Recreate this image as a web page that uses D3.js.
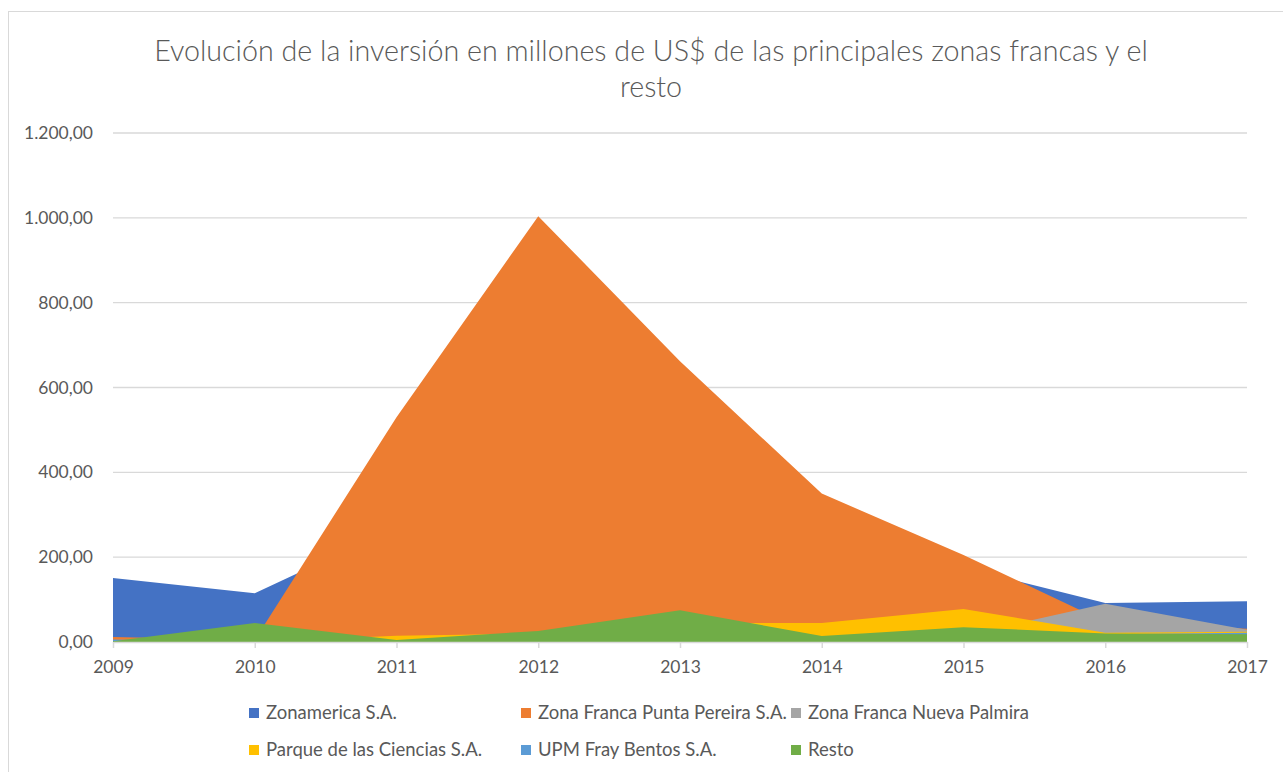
<!DOCTYPE html>
<html><head><meta charset="utf-8">
<script src="https://cdn.jsdelivr.net/npm/d3@7"></script>
<style>body{margin:0;background:#fff}svg{display:block}</style>
</head><body>
<svg id="c" width="1283" height="772"></svg>
<script>
const years = [2009,2010,2011,2012,2013,2014,2015,2016,2017];
const seriesNames = ["Zonamerica S.A.","Zona Franca Punta Pereira S.A.","Zona Franca Nueva Palmira","Parque de las Ciencias S.A.","UPM Fray Bentos S.A.","Resto"];
const zonamerica   = [151,115,271,300,250,200,175,92,96];
const puntaPereira = [12,5,530,1004,662,350,205,47,31];
const nuevaPalmira = [3,0,0,0,0,0,15,90,29];
const parqueCiencias = [0,0,15,20,45,45,78,22,24];
const upmFray      = [6,0,0,0,0,0,0,18,22];
const resto        = [2,45,5,26,75,14,35,20,18];
const yTicks = [0,200,400,600,800,1000,1200];
const colors = ["#4472C4","#ED7D31","#A5A5A5","#FFC000","#5B9BD5","#70AD47"];
const seriesValues = [zonamerica,puntaPereira,nuevaPalmira,parqueCiencias,upmFray,resto];

const svg = d3.select("#c");
const font = "Lato, 'Open Sans', sans-serif";
const textCol = "#595959";
const gridCol = "#d9d9d9";

svg.append("rect").attr("x",8.5).attr("y",11.5).attr("width",1290).attr("height",780)
  .attr("fill","#fff").attr("stroke","#d9d9d9").attr("stroke-width",1);

function fit(text, size, target){
  const t = svg.append("text").attr("font-family",font).attr("font-size",size).text(text);
  const w = t.node().getComputedTextLength(); t.remove();
  return size*target/w;
}

const x = d3.scaleLinear().domain([2009,2017]).range([113,1247]);
const y = d3.scaleLinear().domain([0,1200]).range([642,133]);

// gridlines
svg.append("g").selectAll("line").data(yTicks.slice(1)).join("line")
  .attr("x1",113).attr("x2",1247).attr("y1",d=>y(d)).attr("y2",d=>y(d))
  .attr("stroke",gridCol).attr("stroke-width",1.3);

// areas
const area = d3.area().x((d,i)=>x(years[i])).y0(y(0)).y1(d=>y(d));
svg.append("g").selectAll("path").data(seriesValues).join("path")
  .attr("d",d=>area(d)).attr("fill",(d,i)=>colors[i]);

// axes
const tickSize = fit("1.200,00",16,69);
const fmt = v => d3.format(",.2f")(v).replace(/,/g,"X").replace(/\./g,",").replace(/X/g,".");
const yAxis = svg.append("g").attr("transform","translate(113,0)")
  .call(d3.axisLeft(y).tickValues(yTicks).tickFormat(fmt).tickSize(0).tickPadding(20));
yAxis.select(".domain").remove();
yAxis.selectAll("text").attr("font-family",font).attr("font-size",tickSize).attr("fill",textCol);

const xAxis = svg.append("g").attr("transform","translate(0,642)")
  .call(d3.axisBottom(x).tickValues(years).tickFormat(d3.format("d")).tickSize(6).tickPadding(13).tickSizeOuter(0));
xAxis.select(".domain").attr("stroke",gridCol).attr("stroke-width",1.5);
xAxis.selectAll(".tick line").attr("stroke",gridCol).attr("stroke-width",1.5);
xAxis.selectAll("text").attr("font-family",font).attr("font-size",tickSize).attr("fill",textCol);

// title
const line1 = "Evolución de la inversión en millones de US$ de las principales zonas francas y el";
const titleSize = fit(line1,24,1008);
const title = svg.append("text").attr("font-family",font).attr("font-size",titleSize).attr("fill",textCol)
  .attr("font-weight",300).attr("text-anchor","middle");
title.append("tspan").attr("x",651).attr("y",61).text(line1);
title.append("tspan").attr("x",651).attr("y",97).text("resto");

// legend
const legSize = fit("Zona Franca Punta Pereira S.A.",16,249);
const legX = [249,521,791];
const legY = [713,750];
const leg = svg.append("g").selectAll("g").data(seriesNames).join("g")
  .attr("transform",(d,i)=>`translate(${legX[i%3]},${legY[Math.floor(i/3)]})`);
leg.append("rect").attr("x",0).attr("y",-5).attr("width",10).attr("height",10).attr("fill",(d,i)=>colors[i]);
leg.append("text").attr("x",17).attr("y",0).attr("dy","0.35em").attr("font-family",font)
  .attr("font-size",legSize).attr("fill",textCol).text(d=>d);
</script>
</body></html>
